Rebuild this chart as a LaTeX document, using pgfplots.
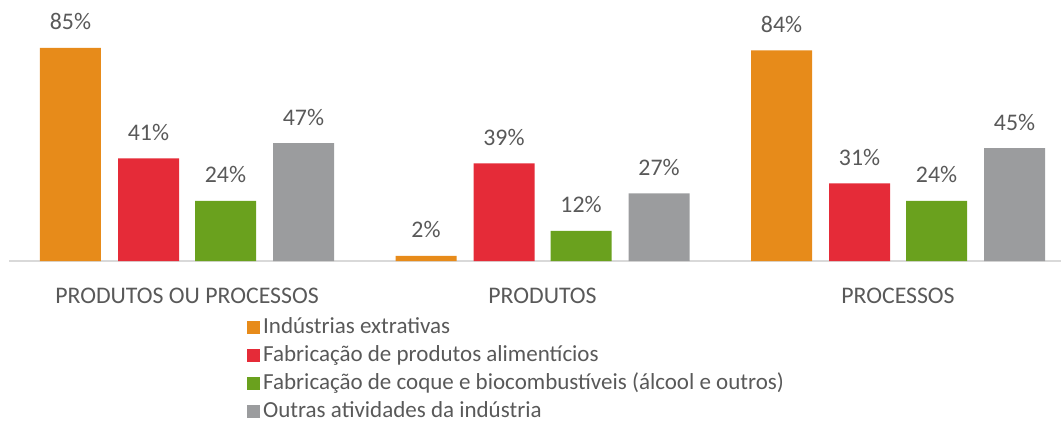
\documentclass[border=0pt]{standalone}
\usepackage{pgfplots}
\pgfplotsset{compat=1.18}
\usepackage{fontspec}
\setmainfont{Carlito}
\definecolor{cOr}{HTML}{E78B1A}
\definecolor{cRe}{HTML}{E52B38}
\definecolor{cGr}{HTML}{6AA11E}
\definecolor{cGy}{HTML}{9B9C9E}
\definecolor{txt}{HTML}{595959}
\definecolor{axl}{HTML}{D9D9D9}
\begin{document}
\begin{tikzpicture}[x=1pt,y=1pt]
\useasboundingbox (0,0) rectangle (1061,426);
\begin{axis}[
  at={(9pt,165pt)}, anchor=south west,
  scale only axis, width=1052pt, height=261pt,
  xmin=-0.5007, xmax=2.4585, ymin=0, ymax=104.15,
  ybar, bar width=61pt,
  axis x line=bottom, axis y line=none,
  x axis line style={draw=axl, line width=1.2pt, -},
  xtick={0,1,2}, xticklabels={PRODUTOS OU PROCESSOS, PRODUTOS, PROCESSOS},
  major tick length=0pt,
  xticklabel style={font=\fontsize{23.8}{28}\selectfont, text=txt, anchor=base, yshift=-42pt},
  nodes near coords={\pgfmathprintnumber{\pgfplotspointmeta}\%},
  /pgf/number format/assume math mode=true,
  every node near coord/.append style={font=\fontsize{23.8}{28}\selectfont, text=txt, anchor=base, yshift=18pt},
  clip=false,
  legend style={draw=none, fill=none, at={(0.2262,-0.2103)}, anchor=north west,
    font=\fontsize{23}{27}\selectfont, text=txt, cells={anchor=west},
    nodes={text height=17pt, text depth=5pt, inner xsep=3pt, inner ysep=0pt},
    row sep=6pt, inner sep=0pt},
  legend image code/.code={\fill[#1] (0pt,-6.5pt) rectangle (13pt,6.5pt);},
]
\addplot[fill=cOr, draw=none, bar shift=-116.5pt] coordinates {(0,85) (1,2) (2,84)};
\addplot[fill=cRe, draw=none, bar shift=-38.5pt] coordinates {(0,41) (1,39) (2,31)};
\addplot[fill=cGr, draw=none, bar shift=38.5pt] coordinates {(0,24) (1,12) (2,24)};
\addplot[fill=cGy, draw=none, bar shift=116.5pt] coordinates {(0,47) (1,27) (2,45)};
\legend{Indústrias extrativas, Fabricação de produtos alimentícios, Fabricação de coque e biocombustíveis (álcool e outros), Outras atividades da indústria}
\end{axis}
\end{tikzpicture}
\end{document}
